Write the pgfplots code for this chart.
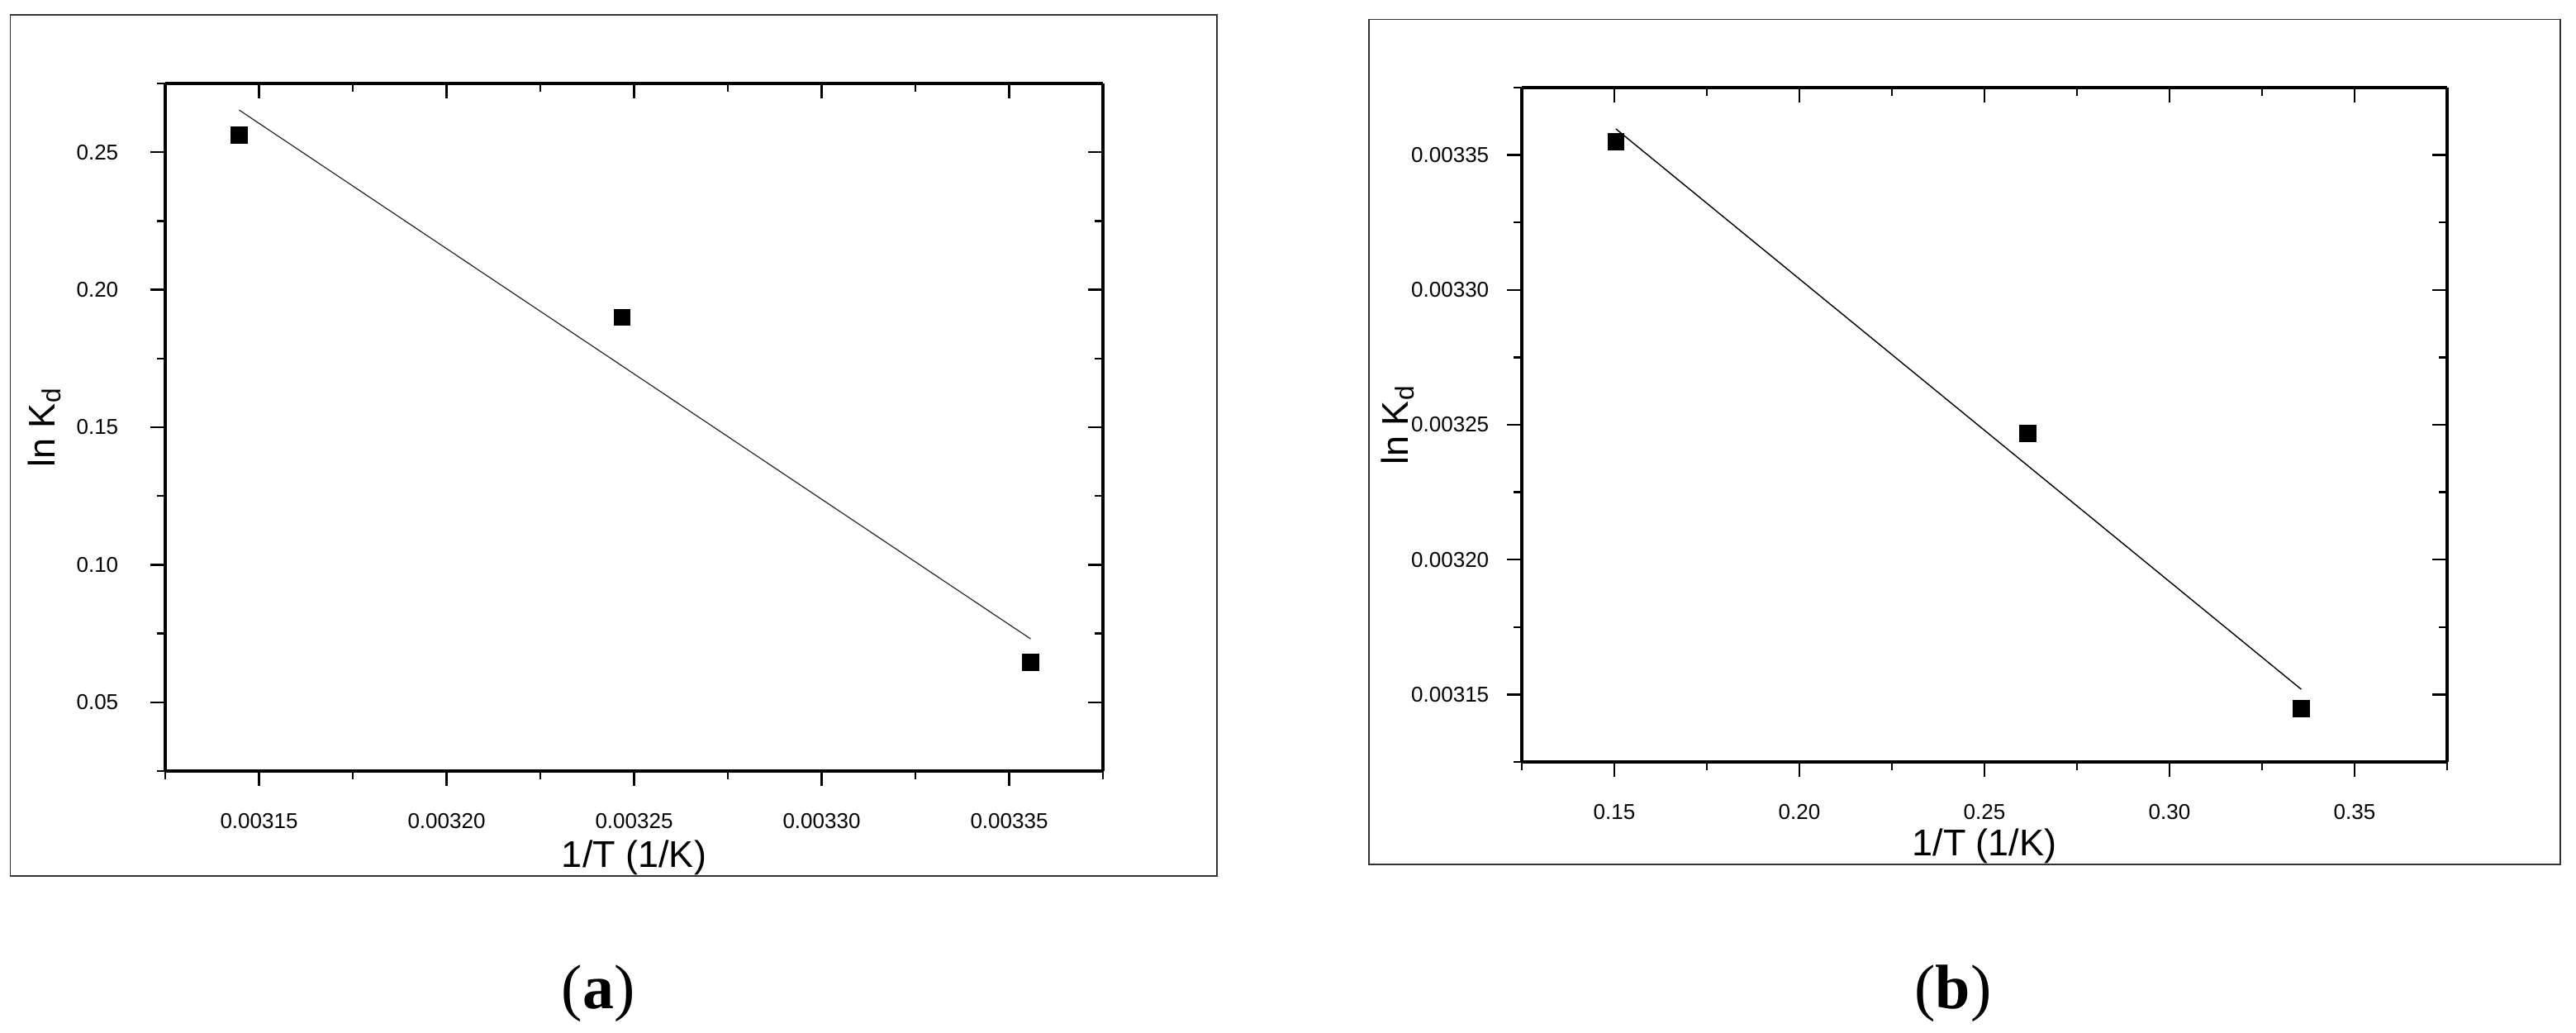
\documentclass[border=0pt]{standalone}
\usepackage{pgfplots}
\pgfplotsset{compat=1.18}
\usepackage{fontspec}
\setmainfont{Liberation Sans}
\newfontfamily\capfont{Liberation Serif}

% shared look of both panels
\pgfplotsset{
  kdbase/.style={
    scale only axis,
    scaled ticks=false,
    tick label style={font=\fontsize{6.5}{7}\selectfont, inner sep=0pt},
    label style={font=\fontsize{11.25}{13}\selectfont},
    major tick length=4.5pt, minor tick length=2.5pt,
    tick style={black, line width=0.6pt},
    axis line style={black, line width=0.8pt},
  },
  kdfront/.style={kdbase, axis x line*=bottom, axis y line*=left, tick align=outside,
    tick label style={/pgf/number format/assume math mode=true}},
  kdback/.style={kdbase, axis x line*=top, axis y line*=right, tick align=inside,
    xticklabels={,,,,,,}, yticklabels={,,,,,,}},
  panelA/.style={
    at={(50pt,79.25pt)}, anchor=south west, width=283.75pt, height=208pt,
    xmin=0.003125, xmax=0.003375, ymin=0.025, ymax=0.275,
    xtick={0.00315,0.0032,0.00325,0.0033,0.00335},
    minor xtick={0.003125,0.003175,0.003225,0.003275,0.003325,0.003375},
    ytick={0.05,0.1,0.15,0.2,0.25},
    minor ytick={0.025,0.075,0.125,0.175,0.225,0.275},
  },
  panelB/.style={
    at={(460.5pt,82pt)}, anchor=south west, width=280pt, height=204pt,
    xmin=0.125, xmax=0.375, ymin=0.003125, ymax=0.003375,
    xtick={0.15,0.2,0.25,0.3,0.35},
    minor xtick={0.125,0.175,0.225,0.275,0.325,0.375},
    ytick={0.00315,0.0032,0.00325,0.0033,0.00335},
    minor ytick={0.003125,0.003175,0.003225,0.003275,0.003325,0.003375},
  },
}

\begin{document}
\begin{tikzpicture}
\path (0,0) rectangle (779.5pt,312.5pt);

% outer frames
\draw[line width=0.3pt, black!80] (3.2pt,47.5pt) rectangle (368.25pt,308pt);
\draw[line width=0.3pt, black!80] (414.25pt,51pt) rectangle (774.75pt,306.6pt);

% ---- (a) ----
\begin{axis}[kdback, panelA]
\end{axis}
\begin{axis}[kdfront, panelA,
  xticklabel style={anchor=north, yshift=-8.25pt,
    /pgf/number format/fixed, /pgf/number format/fixed zerofill,
    /pgf/number format/precision=5},
  yticklabel style={anchor=east, xshift=-9.5pt,
    /pgf/number format/fixed, /pgf/number format/fixed zerofill,
    /pgf/number format/precision=2},
  xlabel={1/T (1/K)},
  xlabel style={at={(axis description cs:0.5,-0.1406)}, anchor=base},
  ylabel={ln K\textsubscript{d}},
  ylabel style={at={(axis description cs:-0.118,0.5)}, anchor=base},
]
\addplot[black!85, line width=0.3pt] coordinates {(0.0031447,0.26534) (0.0033557,0.07306)};
\addplot[only marks, mark=square*, mark size=2.375pt, black]
  coordinates {(0.0031447,0.2562) (0.0032468,0.1900) (0.0033557,0.0645)};
\end{axis}

% ---- (b) ----
\begin{axis}[kdback, panelB]
\end{axis}
\begin{axis}[kdfront, panelB,
  xticklabel style={anchor=north, yshift=-8.25pt,
    /pgf/number format/fixed, /pgf/number format/fixed zerofill,
    /pgf/number format/precision=2},
  yticklabel style={anchor=east, xshift=-5.25pt,
    /pgf/number format/fixed, /pgf/number format/fixed zerofill,
    /pgf/number format/precision=5},
  xlabel={1/T (1/K)},
  xlabel style={at={(axis description cs:0.5,-0.1397)}, anchor=base},
  ylabel={ln K\textsubscript{d}},
  ylabel style={at={(axis description cs:-0.123,0.5)}, anchor=base},
]
\addplot[black, line width=0.35pt] coordinates {(0.1504,0.0033597) (0.3356,0.0031519)};
\addplot[only marks, mark=square*, mark size=2.375pt, black]
  coordinates {(0.1504,0.003355) (0.2617,0.0032468) (0.3356,0.0031448)};
\end{axis}

\node[font=\capfont\fontsize{19}{22}\selectfont] at (181pt,12pt) {(\textbf{a})};
\node[font=\capfont\fontsize{19}{22}\selectfont] at (591pt,12pt) {(\textbf{b})};
\end{tikzpicture}
\end{document}
